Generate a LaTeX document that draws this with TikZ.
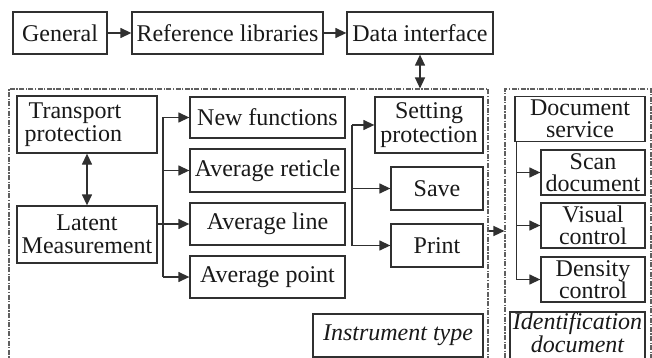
\documentclass[tikz,border=0pt]{standalone}
\usepackage{fontspec}
\setmainfont{Liberation Serif}
\usetikzlibrary{arrows.meta}
\definecolor{ln}{HTML}{303030}
\definecolor{dsh}{HTML}{606060}
\begin{document}
\begin{tikzpicture}[x=1pt,y=-1pt,
  every node/.style={font=\fontsize{24}{23.5}\selectfont, text=black!90},
  bx/.style={draw=ln, line width=1.3pt, inner sep=0pt, align=center},
  tight/.style={font=\fontsize{24}{22}\selectfont},
  grp/.style={draw=dsh, line width=1.1pt, dash pattern=on 5pt off 1.5pt on 1.2pt off 1.5pt, inner sep=0pt},
  con/.style={draw=ln, line width=1.3pt},
  arr/.style={con, -{Triangle[length=11pt,width=10pt]}},
  darr/.style={con, {Triangle[length=11pt,width=10pt]}-{Triangle[length=11pt,width=10pt]}}]
\useasboundingbox (0,0) rectangle (652,358);
\clip (0,0) rectangle (652,358);
\fill[white] (0,0) rectangle (652,358);
% groups
\node[grp, minimum width=479pt, minimum height=290pt] (g1) at (248.5,234) {};
\node[grp, minimum width=146pt, minimum height=290pt] (g2) at (578,234) {};
% top row
\node[bx, minimum width=94pt, minimum height=42pt] (gen) at (60,33) {General};
\node[bx, minimum width=191pt, minimum height=42pt] (ref) at (227.5,33) {Reference libraries};
\node[bx, minimum width=146pt, minimum height=42pt] (data) at (420,33) {Data interface};
% left column
\node[bx, minimum width=140pt, minimum height=57pt] (trans) at (87,124.5) {};
\node[align=left, anchor=west, inner sep=0pt] (transt) at (24.5,124.5) {\hspace{4pt}Transport\\protection};
\node[bx, minimum width=140pt, minimum height=57pt] (lat) at (87,234.5) {Latent\\Measurement};
% middle column
\node[bx, minimum width=155pt, minimum height=41pt] (newf) at (267.5,117.5) {New functions};
\node[bx, minimum width=155pt, minimum height=43pt] (avgr) at (267.5,170.5) {Average reticle};
\node[bx, minimum width=155pt, minimum height=42pt] (avgl) at (267.5,224) {Average line};
\node[bx, minimum width=155pt, minimum height=42pt] (avgp) at (267.5,277) {Average point};
% right column of group 1
\node[bx, minimum width=108pt, minimum height=56pt] (set) at (429,125) {Setting\\protection};
\node[bx, minimum width=92pt, minimum height=43pt] (save) at (437,188.5) {Save};
\node[bx, minimum width=92pt, minimum height=43pt] (print) at (437,245.5) {Print};
\node[bx, minimum width=170pt, minimum height=43pt, font=\fontsize{24}{23}\selectfont\itshape] (inst) at (398,335.5) {Instrument type};
% group 2
\node[bx, tight, minimum width=130pt, minimum height=45pt] (docs) at (580,119) {Document\\service};
\node[bx, tight, minimum width=104pt, minimum height=45pt] (scan) at (593,172.5) {Scan\\document};
\node[bx, tight, minimum width=104pt, minimum height=45pt] (vis) at (593,225.5) {Visual\\control};
\node[bx, tight, minimum width=104pt, minimum height=45pt] (dens) at (593,279.5) {Density\\control};
\node[bx, minimum width=135pt, minimum height=48pt] (ident) at (577.5,336) {};
\node[inner sep=0pt, align=center, font=\fontsize{24}{21}\selectfont\itshape] (identt) at (577.5,333) {Identification\\document};
% connectors top
\draw[arr] (gen) -- (ref);
\draw[arr] (ref) -- (data);
\draw[darr] (data.south) -- (data.south |- g1.north);
% transport <-> latent
\draw[darr] (trans.south) -- (lat.north);
% left branch
\coordinate (j1) at (163,0);
\draw[con] (j1 |- newf.west) -- (j1 |- avgp.west);
\draw[arr] (j1 |- newf.west) -- (newf.west);
\draw[arr] (j1 |- avgr.west) -- (avgr.west);
\draw[arr] (lat.east |- avgl.west) -- (avgl.west);
\draw[arr] (j1 |- avgp.west) -- (avgp.west);
% right branch
\coordinate (j2) at (352,0);
\draw[con] (j2 |- set.west) -- (j2 |- print.west);
\draw[arr] (j2 |- set.west) -- (set.west);
\draw[arr] (j2 |- save.west) -- (save.west);
\draw[arr] (j2 |- print.west) -- (print.west);
% between groups
\coordinate (m) at (0,231);
\draw[arr] (g1.east |- m) -- (g2.west |- m);
% group 2 branch
\coordinate (j3) at (516.5,0);
\draw[con] (j3 |- docs.south) -- (j3 |- dens.west);
\draw[arr] (j3 |- scan.west) -- (scan.west);
\draw[arr] (j3 |- vis.west) -- (vis.west);
\draw[arr] (j3 |- dens.west) -- (dens.west);
\end{tikzpicture}
\end{document}
